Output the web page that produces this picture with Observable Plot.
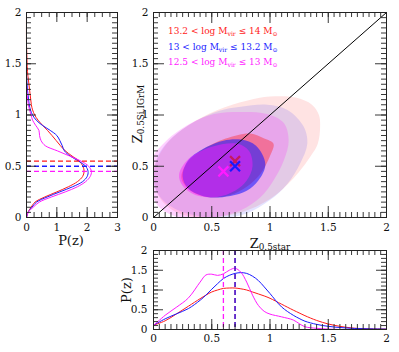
<!DOCTYPE html>
<html><head><meta charset="utf-8">
<script src="https://cdn.jsdelivr.net/npm/d3@7"></script>
<script src="https://cdn.jsdelivr.net/npm/@observablehq/plot@0.6"></script>
<style>
body{margin:0;background:#fff}
#wrap{position:relative;width:399px;height:352px;font-family:"DejaVu Serif",serif;color:#111;overflow:hidden}
.lbl{position:absolute;white-space:nowrap;line-height:1}
.lbl sub{font-size:68%;vertical-align:-0.3em;line-height:0}
.rot{transform:translate(-50%,-50%) rotate(-90deg)}
.ctr{transform:translate(-50%,-50%)}
svg text{font-family:"DejaVu Serif",serif}
</style></head><body>
<div id="wrap"></div>
<script>
// ---------- data ----------
const groupNames = ["13.2 < log Mvir ≤ 14", "13 < log Mvir ≤ 13.2", "12.5 < log Mvir ≤ 13"];
const groupColors = ["#ff1a1a", "#1a1aff", "#ff1aff"];
const medianStar = [0.70, 0.70, 0.60];
const medianGas = [0.55, 0.50, 0.45];

// 95% contours (outer) and 68% contours (inner), [Z_star, Z_gas]
const redOuter = [[1.43,0.88],[1.42,1.0],[1.36,1.1],[1.22,1.17],[1.0,1.18],[0.8,1.14],[0.55,1.05],[0.3,0.9],[0.1,0.7],[0.0,0.45],[0.05,0.2],[0.2,0.05],[0.45,0.0],[0.75,0.05],[1.0,0.18],[1.2,0.38],[1.35,0.6],[1.41,0.72]];
const blueOuter = [[0.75,1.08],[0.975,1.10],[1.15,1.05],[1.29,0.885],[1.32,0.72],[1.26,0.53],[1.15,0.33],[1.0,0.17],[0.80,0.04],[0.6,0.0],[0.32,0.03],[0.11,0.14],[0.01,0.30],[0.03,0.58],[0.16,0.78],[0.36,0.94],[0.56,1.04]];
const magentaOuter = [[0.75,1.03],[0.975,1.01],[1.12,0.92],[1.16,0.75],[1.12,0.56],[1.03,0.36],[0.92,0.2],[0.75,0.07],[0.52,0.0],[0.26,-0.01],[0.05,0.1],[-0.03,0.3],[-0.02,0.56],[0.11,0.75],[0.32,0.92],[0.52,1.01]];
const redInner = [[0.83,0.82],[0.95,0.77],[1.03,0.72],[1.0,0.6],[0.92,0.43],[0.80,0.30],[0.66,0.22],[0.46,0.20],[0.32,0.26],[0.24,0.38],[0.28,0.52],[0.42,0.66],[0.62,0.77]];
const blueInner = [[0.75,0.76],[0.88,0.7],[0.96,0.52],[0.9,0.36],[0.8,0.26],[0.66,0.21],[0.46,0.2],[0.3,0.28],[0.25,0.4],[0.3,0.56],[0.46,0.69],[0.6,0.75]];
const magentaInner = [[0.72,0.72],[0.82,0.65],[0.85,0.5],[0.8,0.36],[0.7,0.26],[0.545,0.2],[0.36,0.22],[0.25,0.31],[0.22,0.42],[0.3,0.57],[0.5,0.69]];

// left panel: P(z) of Z_0.5Si,IGrM
const zGas =        [0, .05, .1, .15, .2, .25, .3, .35, .4, .45, .5, .55, .6, .65, .7, .75, .8, .85, .9, .95, 1, 1.05, 1.1, 1.15, 1.2, 1.25, 1.3, 1.35, 1.4, 1.5, 1.6, 1.7, 2];
const pGasRed =     [0, .05, .15, .28, .6, 1.0, 1.38, 1.68, 1.85, 1.9, 1.86, 1.74, 1.5, 1.28, 1.12, 0.98, 0.84, 0.69, 0.53, 0.38, 0.27, 0.2, 0.16, 0.14, 0.12, 0.1, 0.08, 0.06, 0.04, 0.02, 0.01, 0, 0];
const pGasBlue =    [0, .05, .18, .33, .68, 1.1, 1.52, 1.85, 2.0, 2.03, 1.95, 1.72, 1.44, 1.25, 1.18, 1.1, 1.0, 0.78, 0.52, 0.32, 0.2, 0.13, 0.09, 0.07, 0.05, 0.03, 0.02, 0.01, 0, 0, 0, 0, 0];
const pGasMagenta = [0, .05, .22, .42, .82, 1.28, 1.68, 1.95, 2.1, 2.14, 2.05, 1.8, 1.42, 1.02, 0.62, 0.48, 0.43, 0.41, 0.3, 0.2, 0.15, 0.1, 0.06, 0.04, 0.02, 0.01, 0, 0, 0, 0, 0, 0, 0];

// bottom panel: P(z) of Z_0.5star
const zStar =        [0, .1, .2, .3, .4, .45, .5, .55, .6, .65, .7, .75, .8, .85, .9, .95, 1, 1.1, 1.2, 1.25, 1.3, 1.4, 1.5, 1.6, 1.7, 1.8, 2];
const pStarRed =     [0.11, 0.22, 0.40, 0.59, 0.78, 0.87, 0.95, 1.0, 1.04, 1.05, 1.05, 1.03, 1.0, 0.95, 0.9, 0.85, 0.79, 0.64, 0.49, 0.42, 0.35, 0.23, 0.14, 0.08, 0.04, 0.02, 0.01];
const pStarBlue =    [0.11, 0.27, 0.40, 0.53, 0.74, 0.87, 1.02, 1.16, 1.29, 1.37, 1.42, 1.44, 1.42, 1.35, 1.24, 1.08, 0.91, 0.57, 0.36, 0.28, 0.21, 0.13, 0.08, 0.05, 0.03, 0.02, 0.01];
const pStarMagenta = [0.10, 0.36, 0.57, 0.80, 1.2, 1.38, 1.40, 1.37, 1.41, 1.50, 1.55, 1.45, 1.2, 0.87, 0.61, 0.46, 0.39, 0.32, 0.24, 0.15, 0.07, 0.03, 0.01, 0, 0, 0, 0];

// tick labels
const zTicks = [0, 0.5, 1, 1.5, 2];
const pTicks = [0, 1, 2, 3];

// ---------- helpers ----------
const W = 399, H = 352;
const FONT = "'DejaVu Serif', serif";
const fmt = d => String(d);
const tickStroke = "#222";
function frameTicks(xMaj, xMin, yMaj, yMin, iw, ih, maj, mi) {
  const o = {stroke: tickStroke, strokeWidth: 0.9};
  return [
    Plot.ruleX(xMin, {...o, x: d => d, insetBottom: ih - mi}),
    Plot.ruleX(xMin, {...o, x: d => d, insetTop: ih - mi}),
    Plot.ruleX(xMaj, {...o, x: d => d, insetBottom: ih - maj}),
    Plot.ruleX(xMaj, {...o, x: d => d, insetTop: ih - maj}),
    Plot.ruleY(yMin, {...o, y: d => d, insetRight: iw - mi}),
    Plot.ruleY(yMin, {...o, y: d => d, insetLeft: iw - mi}),
    Plot.ruleY(yMaj, {...o, y: d => d, insetRight: iw - maj}),
    Plot.ruleY(yMaj, {...o, y: d => d, insetLeft: iw - maj}),
    Plot.frame({stroke: tickStroke, strokeWidth: 1})
  ];
}
const range = (a, b, s) => d3.range(Math.round((b - a) / s) + 1).map(i => +(a + i * s).toFixed(3));
function place(svg) {
  Object.assign(svg.style, {background: "transparent", position: "absolute", left: "0px", top: "0px",
    overflow: "visible", maxWidth: "none", color: "#111"});
  svg.setAttribute("font-family", FONT);
  return svg;
}
const axisOpts = {tickSize: 0, tickFormat: fmt, label: null, fontSize: 10.5, fontFamily: FONT};
const pts = arr => arr.map(([x, y]) => ({x, y}));
const series = (xs, ys) => xs.map((x, i) => ({x, y: ys[i]}));

const wrap = document.getElementById("wrap");

// ---------- main panel ----------
{
  const mL = 153, mR = 13, mT = 12, mB = 135;
  const iw = W - mL - mR, ih = H - mT - mB;
  const poly = (arr, c, op) => Plot.line(pts(arr), {x: "x", y: "y", fill: c, fillOpacity: op, stroke: "none", curve: "catmull-rom-closed", clip: true});
  const cross = (i, c) => Plot.dot([{x: medianStar[i], y: medianGas[i]}], {x: "x", y: "y", symbol: "times", r: 4.6, stroke: c || groupColors[i], strokeWidth: 2.2});
  const svg = Plot.plot({
    width: W, height: H, marginLeft: mL, marginRight: mR, marginTop: mT, marginBottom: mB,
    x: {domain: [0, 2]}, y: {domain: [0, 2]},
    marks: [
      poly(redOuter, groupColors[0], 0.12),
      poly(blueOuter, groupColors[1], 0.12),
      poly(magentaOuter, groupColors[2], 0.2),
      poly(redInner, groupColors[0], 0.38),
      poly(blueInner, groupColors[1], 0.58),
      poly(magentaInner, groupColors[2], 0.45),
      cross(0, "#c41a5e"),
      cross(1),
      cross(2),
      Plot.line(series([zTicks[0], zTicks[4]], [zTicks[0], zTicks[4]]), {x: "x", y: "y", stroke: "#000", strokeWidth: 1}),
      ...frameTicks(zTicks, range(0, 2, 0.05), zTicks, range(0, 2, 0.05), iw, ih, 11, 5),
      Plot.axisX(zTicks, {...axisOpts, tickPadding: 6}),
      Plot.axisY(zTicks, {...axisOpts, tickPadding: 5})
    ]
  });
  wrap.appendChild(place(svg));
}

// ---------- left panel ----------
{
  const mL = 26, mR = 282, mT = 12, mB = 135;
  const iw = W - mL - mR, ih = H - mT - mB;
  const cv = (ps, c) => Plot.line(series(ps, zGas), {x: "x", y: "y", stroke: c, strokeWidth: 1, curve: "catmull-rom"});
  const dash = (i) => Plot.ruleY([medianGas[i]], {y: d => d, stroke: groupColors[i], strokeWidth: 1.3, strokeDasharray: "5,3"});
  const svg = Plot.plot({
    width: W, height: H, marginLeft: mL, marginRight: mR, marginTop: mT, marginBottom: mB,
    x: {domain: [0, 3]}, y: {domain: [0, 2]},
    marks: [
      cv(pGasRed, groupColors[0]),
      cv(pGasBlue, groupColors[1]),
      cv(pGasMagenta, groupColors[2]),
      dash(0), dash(1), dash(2),
      ...frameTicks(pTicks, range(0, 3, 0.25), zTicks, range(0, 2, 0.05), iw, ih, 10, 5),
      Plot.axisX(pTicks, {...axisOpts, tickPadding: 6}),
      Plot.axisY(zTicks, {...axisOpts, tickPadding: 5})
    ]
  });
  wrap.appendChild(place(svg));
}

// ---------- bottom panel ----------
{
  const mL = 153, mR = 13, mT = 250, mB = 23;
  const iw = W - mL - mR, ih = H - mT - mB;
  const cv = (ps, c) => Plot.line(series(zStar, ps), {x: "x", y: "y", stroke: c, strokeWidth: 1, curve: "catmull-rom"});
  const dash = (i) => Plot.ruleX([medianStar[i]], {x: d => d, stroke: groupColors[i], strokeWidth: 1.3, strokeDasharray: "5,3"});
  const svg = Plot.plot({
    width: W, height: H, marginLeft: mL, marginRight: mR, marginTop: mT, marginBottom: mB,
    x: {domain: [0, 2]}, y: {domain: [0, 2]},
    marks: [
      cv(pStarRed, groupColors[0]),
      cv(pStarBlue, groupColors[1]),
      cv(pStarMagenta, groupColors[2]),
      dash(0), dash(1), dash(2),
      ...frameTicks(zTicks, range(0, 2, 0.05), zTicks, range(0, 2, 0.1), iw, ih, 10, 5),
      Plot.axisX(zTicks, {...axisOpts, tickPadding: 5}),
      Plot.axisY(zTicks, {...axisOpts, tickPadding: 6})
    ]
  });
  wrap.appendChild(place(svg));
}

// ---------- text labels ----------
function label(html, x, y, cls, size, color) {
  const d = document.createElement("div");
  d.className = "lbl " + cls;
  d.style.left = x + "px"; d.style.top = y + "px";
  d.style.fontSize = size + "px";
  if (color) d.style.color = color;
  d.innerHTML = html;
  wrap.appendChild(d);
}
label("P(z)", 71, 240, "ctr", 13);
label("P(z)", 126, 290, "rot", 13);
label("Z<sub>0.5Si,IGrM</sub>", 137, 114, "rot", 13);
label("Z<sub>0.5star</sub>", 270, 243, "ctr", 13);
const legendY = [32, 48, 63];
groupNames.forEach((n, i) => {
  const html = n.replace("Mvir", "M<sub>vir</sub>") + " M<sub>⊙</sub>";
  label(html, 168, legendY[i] - 5, "", 9, groupColors[i]);
});
</script>
</body></html>
